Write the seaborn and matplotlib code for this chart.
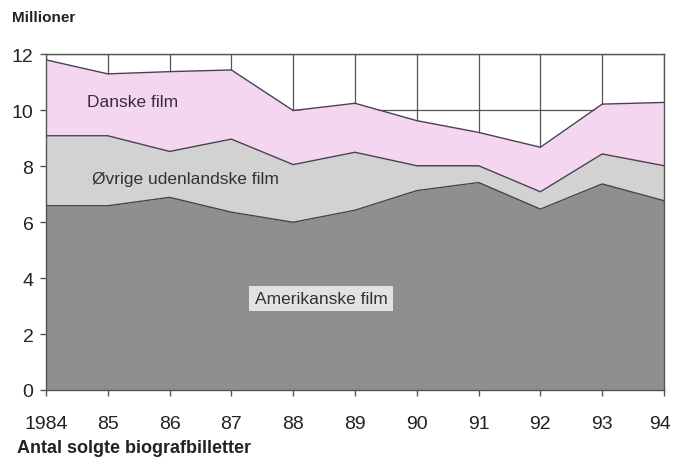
import matplotlib
matplotlib.use("Agg")
import matplotlib.pyplot as plt
import matplotlib.transforms as mtransforms
import seaborn as sns
import numpy as np
import pandas as pd

years = [1984, 1985, 1986, 1987, 1988, 1989, 1990, 1991, 1992, 1993, 1994]
year_labels = ["1984", "85", "86", "87", "88", "89", "90", "91", "92", "93", "94"]
amerikanske = [6.58, 6.58, 6.88, 6.35, 5.99, 6.42, 7.12, 7.41, 6.46, 7.36, 6.76]
ovrige = [2.50, 2.50, 1.64, 2.61, 2.06, 2.07, 0.89, 0.60, 0.62, 1.07, 1.25]
danske = [2.71, 2.21, 2.85, 2.47, 1.93, 1.75, 1.61, 1.19, 1.59, 1.78, 2.26]
series_names = ["Amerikanske film", "Øvrige udenlandske film", "Danske film"]
y_ticks = [0, 2, 4, 6, 8, 10, 12]

sns.set_theme(style="white")
plt.rcParams["font.family"] = ["Liberation Sans", "DejaVu Sans"]

fig = plt.figure(figsize=(6.73, 4.60), dpi=100)
ax = fig.add_axes([46 / 673, 69 / 460, 618 / 673, 336 / 460])

colors = ["#8f8f8f", "#d2d2d2", "#f4d6f0"]
ax.stackplot(years, amerikanske, ovrige, danske, colors=colors, zorder=2, linewidth=0)

df = pd.DataFrame({"year": years, "a": amerikanske, "o": ovrige, "d": danske})
df["c1"] = df["a"]
df["c2"] = df["a"] + df["o"]
df["c3"] = df["c2"] + df["d"]
for col in ["c1", "c2", "c3"]:
    sns.lineplot(data=df, x="year", y=col, ax=ax, color="#4a4050", linewidth=1.0, zorder=3)

ax.set_xlim(years[0], years[-1])
ax.set_ylim(0, 12)
ax.set_xticks(years)
ax.set_xticklabels(year_labels)
ax.set_yticks(y_ticks)
ax.set_xlabel("")
ax.set_ylabel("")
ax.grid(True, color="#555555", linewidth=0.9, zorder=0)
ax.set_axisbelow(True)
for s in ax.spines.values():
    s.set_color("#555555")
    s.set_linewidth(1.0)
ax.tick_params(axis="x", which="both", bottom=True, length=4, width=1, color="#555555",
               pad=14, labelsize=14, labelcolor="#222222")
ax.tick_params(axis="y", which="both", left=True, length=4, width=1, color="#555555",
               pad=5, labelsize=14, labelcolor="#222222")

# nudge the last tick label so it stays inside the figure
last = ax.get_xticklabels()[-1]
last.set_transform(last.get_transform() + mtransforms.ScaledTranslation(-4 / 100, 0, fig.dpi_scale_trans))

txt_col = "#353038"
ax.text(1984.66, 10.3, series_names[2], fontsize=12.5, color=txt_col, va="center", ha="left", zorder=5)
ax.text(1984.74, 7.54, series_names[1], fontsize=12.5, color=txt_col, va="center", ha="left", zorder=5)
ax.text(1988.45, 3.27, series_names[0], fontsize=12.5, color=txt_col, va="center", ha="center", zorder=5,
        bbox=dict(boxstyle="square,pad=0.3", facecolor="#e2e2e2", edgecolor="none"))

fig.text(12 / 673, 1 - 18 / 460, "Millioner", fontsize=11, fontweight="semibold", color="#222222",
         va="center", ha="left")
fig.text(17 / 673, 1 - 449 / 460, "Antal solgte biografbilletter", fontsize=13, fontweight="bold",
         color="#222222", va="center", ha="left")

fig.savefig("out.png", dpi=100)
